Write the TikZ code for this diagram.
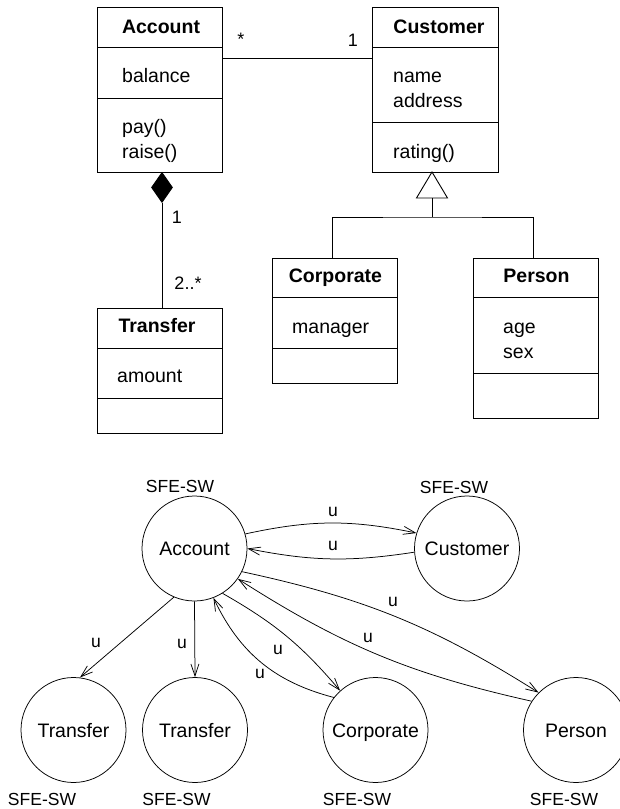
\documentclass[tikz,border=0pt]{standalone}
\usepackage{fontspec}
\setmainfont{Liberation Sans}
\usetikzlibrary{arrows.meta,shapes.geometric}

\tikzset{
  classbox/.style={draw, line width=0.9pt, inner sep=0pt, anchor=north west},
  sep/.style={line width=0.9pt},
  assoc/.style={line width=0.9pt},
  cname/.style={font=\fontsize{19.5}{24}\bfseries\selectfont, anchor=base, inner sep=0pt},
  member/.style={font=\fontsize{19.5}{24}\selectfont, anchor=base west, inner sep=0pt},
  mult/.style={font=\fontsize{18}{22}\selectfont, inner sep=0pt},
  unit/.style={circle, draw, line width=0.75pt, minimum size=105pt, inner sep=0pt,
    font=\fontsize{19.5}{24}\selectfont, text height=14pt, text depth=0pt},
  tag/.style={font=\fontsize{17.5}{21}\selectfont, inner sep=0pt},
  uselbl/.style={font=\fontsize{17.5}{21}\selectfont, inner sep=0pt},
  uses/.style={line width=0.75pt, -{Straight Barb[length=12pt,width=8pt,line width=0.75pt]}},
}

\begin{document}
\begin{tikzpicture}[x=1pt,y=1pt]
\useasboundingbox (0,0) rectangle (620,-809);

% ---------------- class diagram ----------------
% Account
\node[classbox, minimum width=125pt, minimum height=165pt] (acc) at (97,-7) {};
\draw[sep] (97,-47) -- (222,-47);
\draw[sep] (97,-98) -- (222,-98);
\node[cname] (accN) at (161,-33) {Account};
\node[member] (accA) at (122,-82) {balance};
\node[member] (accO1) at (122,-133) {pay()};
\node[member] (accO2) at (122,-158) {raise()};

% Customer
\node[classbox, minimum width=126pt, minimum height=165pt] (cus) at (372,-7) {};
\draw[sep] (372,-47) -- (498,-47);
\draw[sep] (372,-122) -- (498,-122);
\node[cname] (cusN) at (439,-33) {Customer};
\node[member] (cusA1) at (393,-82) {name};
\node[member] (cusA2) at (393,-107) {address};
\node[member] (cusO1) at (393,-158) {rating()};

% Transfer
\node[classbox, minimum width=125pt, minimum height=125pt] (tra) at (97,-308) {};
\draw[sep] (97,-348) -- (222,-348);
\draw[sep] (97,-398) -- (222,-398);
\node[cname] (traN) at (157,-332) {Transfer};
\node[member] (traA) at (117,-382) {amount};

% Corporate
\node[classbox, minimum width=125pt, minimum height=125pt] (cor) at (272,-258) {};
\draw[sep] (272,-297) -- (397,-297);
\draw[sep] (272,-348) -- (397,-348);
\node[cname] (corN) at (335.5,-282) {Corporate};
\node[member] (corA) at (292,-333) {manager};

% Person
\node[classbox, minimum width=125pt, minimum height=160pt] (per) at (473,-258) {};
\draw[sep] (473,-297) -- (598,-297);
\draw[sep] (473,-373) -- (598,-373);
\node[cname] (perN) at (536.5,-282) {Person};
\node[member] (perA1) at (503,-333) {age};
\node[member] (perA2) at (503,-358) {sex};

% association Account -- Customer
\coordinate (assocL) at (222,-58);
\coordinate (assocR) at (372,-58);
\draw[assoc] (assocL) -- (assocR);
\node[mult] (mStar) at (241,-39) {*};
\node[mult] (mOne) at (353,-40) {1};

% composition Account <>-- Transfer
\node[diamond, draw, fill=black, line width=0.9pt, minimum width=21pt, minimum height=30pt,
      inner sep=0pt, anchor=north] (comp) at (162,-172) {};
\coordinate (traTop) at (162,-308);
\draw[assoc] (comp.south) -- (traTop);
\node[mult] (mC1) at (177,-217) {1};
\node[mult, anchor=base] (mC2) at (188,-289) {2..*};

% generalization Customer <|-- Corporate, Person
\coordinate (gApex) at (432,-172);
\coordinate (gBase) at (432,-198);
\coordinate (gJoin) at (432,-217);
\coordinate (corTop) at (332,-258);
\coordinate (perTop) at (533,-258);
\draw[assoc] (gApex) -- (416.5,-198) -- (447.5,-198) -- cycle;
\draw[assoc] (gBase) -- (gJoin);
\draw[assoc] (corTop) |- (gJoin) -| (perTop);

% ---------------- usage graph ----------------
\node[unit] (uAcc) at (194.5,-548.5) {Account};
\node[unit] (uCus) at (467,-548.5) {Customer};
\node[unit] (uTr1) at (73.5,-730) {Transfer};
\node[unit] (uTr2) at (195,-730) {Transfer};
\node[unit] (uCor) at (375.5,-730) {Corporate};
\node[unit] (uPer) at (576,-730) {Person};

\node[tag] (tAcc) at (180,-486) {SFE-SW};
\node[tag] (tCus) at (454,-487) {SFE-SW};
\node[tag] (tTr1) at (42,-799.5) {SFE-SW};
\node[tag] (tTr2) at (176.5,-799.5) {SFE-SW};
\node[tag] (tCor) at (357,-799.5) {SFE-SW};
\node[tag] (tPer) at (564,-799.5) {SFE-SW};

\draw[uses] (uAcc.16) to[bend left=12] (uCus.163);
\draw[uses] (uCus.184) to[bend left=10] (uAcc.0);
\draw[uses] (uAcc.247) -- (uTr1.83);
\draw[uses] (uAcc.270) -- (uTr2.90);
\draw[uses] (uAcc.302) to[bend left=10] (uCor.132);
\draw[uses] (uCor.142) to[bend left=25] (uAcc.291);
\draw[uses] (uAcc.334) to[bend left=10] (uPer.135);
\draw[uses] (uPer.147) to[bend left=10] (uAcc.325);

\node[uselbl] (l1) at (333,-512) {u};
\node[uselbl] (l2) at (333,-546) {u};
\node[uselbl] (l3) at (96,-643) {u};
\node[uselbl] (l4) at (182,-644) {u};
\node[uselbl] (l5) at (278,-650) {u};
\node[uselbl] (l6) at (260,-674) {u};
\node[uselbl] (l7) at (393,-602) {u};
\node[uselbl] (l8) at (368,-638) {u};
\end{tikzpicture}
\end{document}
